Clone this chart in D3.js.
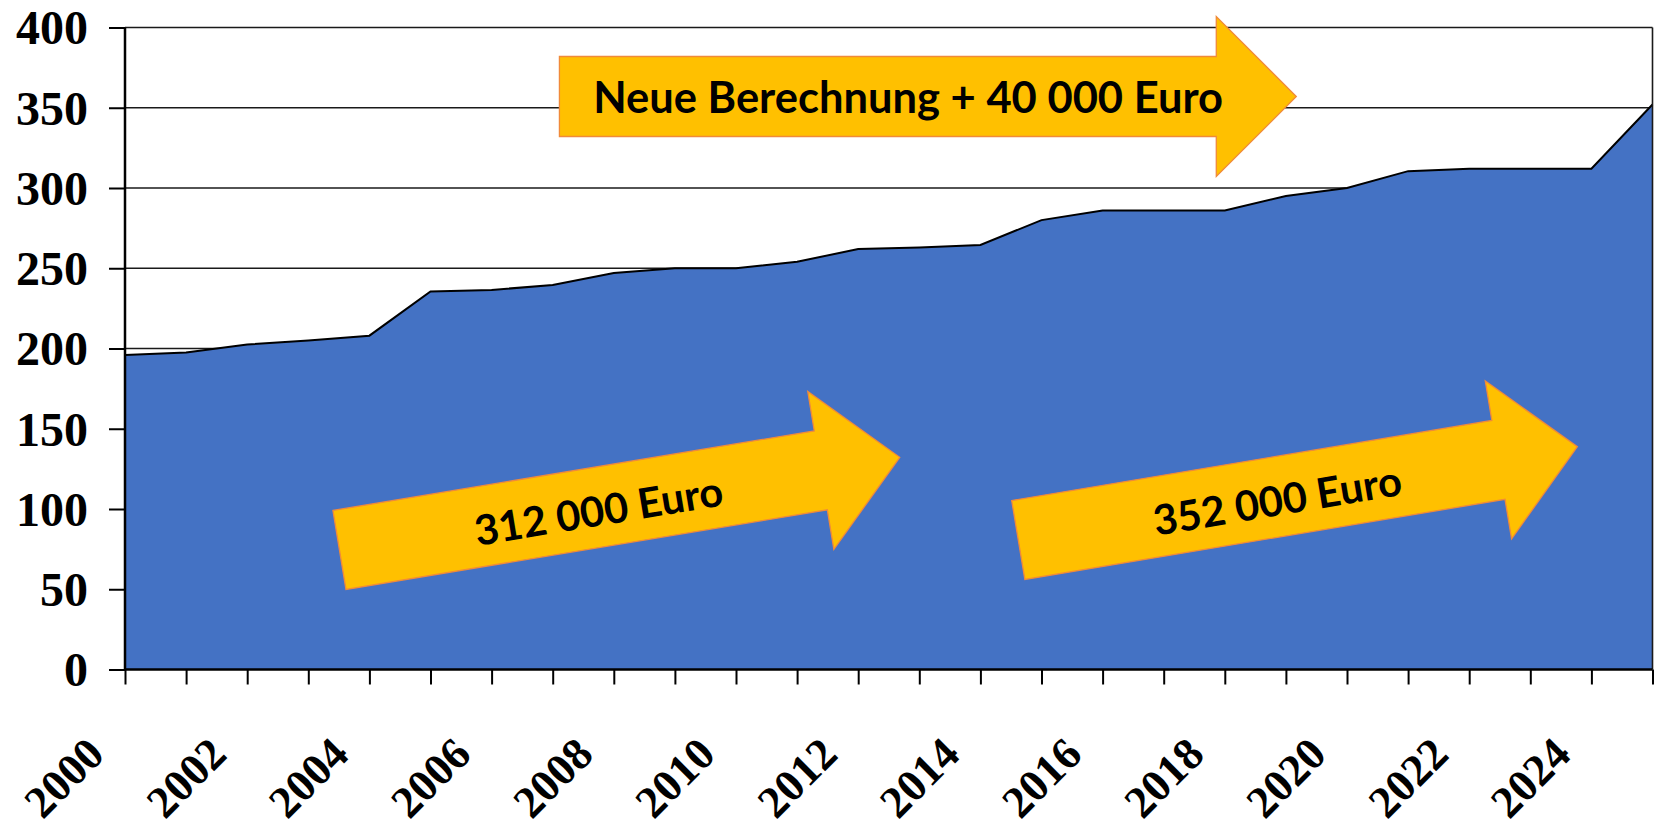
<!DOCTYPE html>
<html>
<head>
<meta charset="utf-8" />
<title>D3 v7 - area chart</title>
<style>
body { margin: 0; background: #fff; }
#graph { width: 1661px; height: 827px; }
.axis text { font-family: "Liberation Serif", "Times New Roman", serif; font-weight: bold; fill: #000; }
.arrow-label { font-family: Lato, "Open Sans", sans-serif; font-weight: bold; fill: #000; }
</style>
</head>
<body>
<div id="graph"></div>
<script src="https://d3js.org/d3.v7.min.js"></script>
<script>

// data
var years = [2000, 2001, 2002, 2003, 2004, 2005, 2006, 2007, 2008, 2009, 2010, 2011, 2012,
             2013, 2014, 2015, 2016, 2017, 2018, 2019, 2020, 2021, 2022, 2023, 2024, 2025];
var values = [196, 197.5, 202.5, 205, 208, 235.5, 236.5, 239.5, 247, 250, 250, 254, 262,
              263, 264.5, 280, 286, 286, 286, 295, 300, 310.5, 312, 312, 312, 352];
var yTicks = [0, 50, 100, 150, 200, 250, 300, 350, 400];
var yearLabels = [2000, 2002, 2004, 2006, 2008, 2010, 2012, 2014, 2016, 2018, 2020, 2022, 2024];

// arrows, anchored in data units: tail middle and tip
var arrowTexts = ["Neue Berechnung + 40 000 Euro", "312 000 Euro", "352 000 Euro"];
var arrowTails = [[2007.11, 357.0], [2003.51, 74.5], [2014.62, 80.7]];
var arrowTips  = [[2019.17, 357.0], [2012.68, 132.2], [2023.77, 138.8]];

function drawChart(tag) {
    var width = 1661;
    var height = 827;
    var left = 125, right = 1652.5, top = 27.5, bottom = 669.5;

    var svg = d3.select(tag)
        .append('svg')
        .attr('width', width)
        .attr('height', height);

    var x = d3.scaleLinear().domain([2000, 2025]).range([left, right]);
    var y = d3.scaleLinear().domain([0, 400]).range([bottom, top]);

    // gridlines
    svg.append('g')
        .selectAll('line')
        .data(yTicks.filter(d => d > 0))
        .enter().append('line')
        .attr('x1', left).attr('x2', right)
        .attr('y1', d => y(d)).attr('y2', d => y(d))
        .style('stroke', '#1a1a1a')
        .style('stroke-width', 1.4);

    // area
    var data = years.map((yr, i) => ({year: yr, value: values[i]}));
    var area = d3.area()
        .x(d => x(d.year))
        .y0(y(0))
        .y1(d => y(d.value));
    var line = d3.line()
        .x(d => x(d.year))
        .y(d => y(d.value));

    svg.append('path')
        .datum(data)
        .attr('d', area)
        .style('fill', '#4472C4');
    svg.append('path')
        .datum(data)
        .attr('d', line)
        .style('fill', 'none')
        .style('stroke', '#000')
        .style('stroke-width', 2);

    // right border of plot area
    svg.append('line')
        .attr('x1', right).attr('x2', right)
        .attr('y1', y(400)).attr('y2', y(0))
        .style('stroke', '#1a1a1a')
        .style('stroke-width', 1.6);

    // y axis
    var yAxis = svg.append('g')
        .attr('class', 'axis')
        .attr('transform', 'translate(' + left + ',0)')
        .call(d3.axisLeft(y).tickValues(yTicks).tickSize(16).tickPadding(21).tickFormat(d3.format('d')));
    yAxis.selectAll('text').style('font-size', '48px').attr('dy', '0.34em');

    // x axis
    var xAxis = svg.append('g')
        .attr('class', 'axis')
        .attr('transform', 'translate(0,' + bottom + ')')
        .call(d3.axisBottom(x).tickValues(years).tickSize(15)
            .tickFormat(d => yearLabels.indexOf(d) >= 0 ? String(d) : ''));
    xAxis.selectAll('text')
        .style('font-size', '45px')
        .style('text-anchor', 'end')
        .attr('x', 0).attr('y', 0).attr('dy', 0)
        .attr('transform', 'translate(-19,87) rotate(-45)');

    [yAxis, xAxis].forEach(function(ax) {
        ax.select('.domain').style('stroke', '#000').style('stroke-width', 2.5);
        ax.selectAll('.tick line').style('stroke', '#000').style('stroke-width', 2);
    });
    xAxis.select('.domain').attr('d', 'M' + left + ',0H' + right);
    yAxis.select('.domain').attr('d', 'M0,' + top + 'V' + bottom);

    // block arrows
    var bodyHalf = 40, headHalf = 80, headLen = 80;
    var textWidths = [630, 251, 251];
    var textShift = [348.7, 262, 262];
    var textOffset = [1, 4, 4];

    arrowTexts.forEach(function(label, i) {
        var x0 = x(arrowTails[i][0]), y0 = y(arrowTails[i][1]);
        var x1 = x(arrowTips[i][0]), y1 = y(arrowTips[i][1]);
        var len = Math.hypot(x1 - x0, y1 - y0);
        var ang = Math.atan2(y1 - y0, x1 - x0) * 180 / Math.PI;
        var hb = len - headLen;

        var g = svg.append('g')
            .attr('transform', 'translate(' + x0 + ',' + y0 + ') rotate(' + ang + ')');
        var pts = [[0, -bodyHalf], [hb, -bodyHalf], [hb, -headHalf], [len, 0],
                   [hb, headHalf], [hb, bodyHalf], [0, bodyHalf]];
        g.append('polygon')
            .attr('points', pts.map(p => p.join(',')).join(' '))
            .style('fill', '#FFC000')
            .style('stroke', '#F08A3A')
            .style('stroke-width', 1.3);

        var t = g.append('text')
            .attr('class', 'arrow-label')
            .attr('x', textShift[i])
            .attr('y', textOffset[i])
            .attr('dy', '0.35em')
            .attr('text-anchor', 'middle')
            .style('font-size', '44px')
            .text(label);
        var w = t.node().getComputedTextLength();
        t.style('font-size', (44 * textWidths[i] / w) + 'px');
    });
}

drawChart('#graph');
</script>
</body>
</html>
